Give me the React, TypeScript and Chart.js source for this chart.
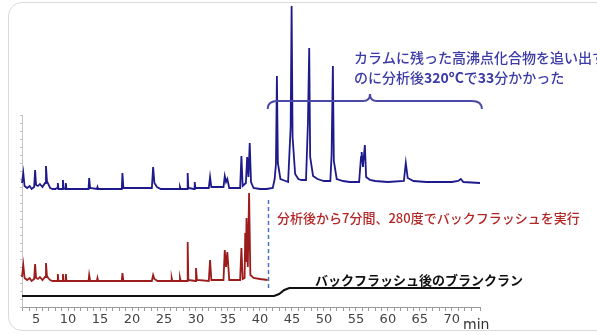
import React, { useEffect, useRef } from "react";
import { Chart, registerables } from "chart.js";

Chart.register(...registerables);

// ---- data (retention time in min, detector signal in arbitrary units) ----
const blueTimes = [
  2.8, 3.0, 3.2, 3.6, 4.0, 4.3, 4.7, 4.85, 5.0, 5.3, 5.6, 6.0, 6.4, 6.55, 6.7, 6.9, 7.2, 7.6, 8.0, 8.3, 8.4, 8.5,
  9.1, 9.2, 9.3, 9.55, 9.65, 9.75, 10.5, 13.2, 13.3, 13.45, 14.5, 14.6, 14.7, 18.4, 18.5, 18.65, 23.1, 23.3, 23.5,
  23.9, 24.5, 27.4, 27.5, 27.6, 28.6, 28.7, 28.8, 29.7, 29.8, 29.9, 32.0, 32.2, 32.4, 34.3, 34.5, 34.7, 34.9, 35.2,
  36.9, 37.1, 37.3, 37.8, 38.0, 38.2, 38.4, 38.6, 39.0, 40.0, 41.0, 42.0, 42.3, 42.5, 42.65, 42.8, 43.2, 43.6, 44.0,
  44.4, 44.8, 44.95, 45.1, 45.5, 46.0, 46.5, 47.2, 47.5, 47.7, 47.85, 48.3, 49.0, 50.0, 51.0, 51.2, 51.4, 51.55,
  52.0, 53.0, 54.0, 55.5, 55.8, 55.9, 56.1, 56.4, 56.6, 57.2, 58.0, 60.0, 62.5, 62.8, 63.1, 64.0, 66.0, 70.0, 71.0,
  71.4, 71.8, 74.4,
];
const blueValues = [
  124, 134, 121, 119, 121, 118, 120, 137, 122, 121, 123, 120, 124, 141, 126, 123, 119, 118, 118, 119, 124, 118,
  118, 127, 119, 118, 124, 118, 118, 118, 129, 119, 118, 120, 118, 118, 134, 119, 119, 140, 124,
  120, 118, 118, 120, 118, 118, 134, 119, 118, 125, 119, 119, 130, 120, 120, 131, 125, 128, 119,
  119, 151, 121, 124, 150, 130, 164, 125, 119, 118, 118, 119, 128, 143, 231, 144, 128, 127, 126,
  125, 180, 301, 170, 133, 128, 127, 127, 184, 259, 150, 131, 128, 126, 126, 152, 241, 146,
  128, 126, 125, 125, 150, 155, 140, 162, 130, 127, 126, 125, 126, 144, 129, 126, 125, 125, 126,
  128, 125, 124,
];

const redTimes = [
  2.8, 3.0, 3.2, 3.6, 4.0, 4.3, 4.7, 4.85, 5.0, 5.3, 5.6, 6.0, 6.4, 6.55, 6.7, 6.9, 7.2, 7.6, 8.0, 8.3, 8.4, 8.5,
  9.1, 9.2, 9.3, 9.55, 9.65, 9.75, 10.5, 13.2, 13.3, 13.45, 14.5, 14.6, 14.7, 18.4, 18.5, 18.65, 23.1, 23.3, 23.5,
  24.0, 26.1, 26.2, 26.3, 27.4, 27.5, 27.6, 28.6, 28.7, 28.8, 29.9, 30.0, 30.15, 32.0, 32.2, 32.4, 34.3, 34.5, 34.7,
  34.9, 35.2, 36.9, 37.1, 37.3, 37.6, 37.7, 37.8, 37.9, 38.1, 38.3, 38.5, 39.0, 40.0, 41.2,
];
const redValues = [
  30, 42, 29, 27, 29, 26, 28, 43, 29, 28, 30, 27, 30, 44, 31, 29, 27, 26, 26, 26, 33, 26,
  26, 33, 26, 26, 33, 26, 26, 26, 32, 26, 26, 29, 26, 26, 34, 26, 26, 32, 28,
  26, 26, 29, 26, 26, 29, 26, 26, 65, 27, 26, 39, 27, 26, 47, 27, 27, 57, 40,
  55, 27, 27, 59, 28, 29, 74, 45, 89, 40, 114, 32, 29, 28, 27,
];

const blackTimes = [2.8, 42.2, 43.0, 43.8, 44.6, 74.4];
const blackValues = [11, 11, 13, 17, 19, 19];

const xTickLabels = [5, 10, 15, 20, 25, 30, 35, 40, 45, 50, 55, 60, 65, 70];
const xMin = 2.8;
const xMax = 74.4;

const toPoints = (xs: number[], ys: number[]) => xs.map((x, i) => ({ x, y: ys[i] }));

const JP = '"Noto Sans CJK JP", "Noto Sans", sans-serif';

function drawSegments(ctx: CanvasRenderingContext2D, x: number, y: number, segs: [string, string][], size: number, color: string) {
  ctx.fillStyle = color;
  ctx.textBaseline = "middle";
  ctx.textAlign = "left";
  let cx = x;
  for (const [t, weight] of segs) {
    ctx.font = `${weight} ${size}px ${JP}`;
    ctx.fillText(t, cx, y);
    cx += ctx.measureText(t).width;
  }
}

const annotations = {
  id: "annotations",
  afterDatasetsDraw(chart: any) {
    const { ctx, chartArea } = chart;
    const xs = chart.scales.x;
    ctx.save();

    // dashed vertical line at end of red run
    const dx = Math.round(xs.getPixelForValue(41.2)) + 0.5;
    ctx.strokeStyle = "#3f78c0";
    ctx.lineWidth = 1.5;
    ctx.setLineDash([4, 3]);
    ctx.beginPath();
    ctx.moveTo(dx, 200);
    ctx.lineTo(dx, 290);
    ctx.stroke();
    ctx.setLineDash([]);

    // curly brace
    const bl = xs.getPixelForValue(41.2);
    const br = xs.getPixelForValue(74.7);
    const bc = xs.getPixelForValue(57.2);
    const yb = 101;
    ctx.strokeStyle = "#4a48a8";
    ctx.lineWidth = 2;
    ctx.beginPath();
    ctx.moveTo(bl, yb + 8);
    ctx.quadraticCurveTo(bl, yb, bl + 10, yb);
    ctx.lineTo(bc - 7, yb);
    ctx.quadraticCurveTo(bc, yb, bc, yb - 7);
    ctx.quadraticCurveTo(bc, yb, bc + 7, yb);
    ctx.lineTo(br - 10, yb);
    ctx.quadraticCurveTo(br, yb, br, yb + 8);
    ctx.stroke();

    // texts
    const blue = "#3b3aa6";
    drawSegments(ctx, 354, 58, [["カラムに残った高沸点化合物を追い出す", "500"]], 14, blue);
    drawSegments(ctx, 354, 78, [["のに分析後", "500"], ["320ºC", "bold"], ["で", "500"], ["33", "bold"], ["分かかった", "500"]], 14, blue);
    drawSegments(ctx, 277, 218, [["分析後から7分間、280度でバックフラッシュを実行", "500"]], 13, "#b32626");
    drawSegments(ctx, 315, 280, [["バックフラッシュ後のブランクラン", "bold"]], 13, "#111111");

    // axis unit
    ctx.font = `14px "DejaVu Sans", sans-serif`;
    ctx.fillStyle = "#333";
    ctx.textAlign = "left";
    ctx.textBaseline = "middle";
    ctx.fillText("min", chartArea.right - 17, 325);
    ctx.restore();
  },
};

export default function App() {
  const ref = useRef<HTMLCanvasElement>(null);
  useEffect(() => {
    if (!ref.current) return;
    const chart = new Chart(ref.current, {
      type: "line",
      data: {
        datasets: [
          { data: toPoints(blueTimes, blueValues), borderColor: "#1e1a8c", borderWidth: 1.8, pointRadius: 0, tension: 0, clip: false as any },
          { data: toPoints(redTimes, redValues), borderColor: "#9c1b1b", borderWidth: 1.8, pointRadius: 0, tension: 0, clip: false as any },
          { data: toPoints(blackTimes, blackValues), borderColor: "#111111", borderWidth: 2, pointRadius: 0, tension: 0, clip: false as any },
        ],
      },
      options: {
        animation: false,
        responsive: false,
        maintainAspectRatio: false,
        layout: { padding: { top: 115, right: 117, left: 0, bottom: 0 } },
        plugins: { legend: { display: false }, tooltip: { enabled: false } },
        scales: {
          x: {
            type: "linear",
            min: xMin,
            max: xMax,
            afterFit: (s: any) => { s.height = 28; },
            border: { display: true, color: "#9a9a9a", width: 1 },
            grid: { drawOnChartArea: false, drawTicks: true, tickLength: 4, color: "#9a9a9a" },
            ticks: {
              stepSize: 1,
              autoSkip: false,
              maxRotation: 0,
              padding: 1,
              color: "#444",
              font: { family: '"DejaVu Sans", sans-serif', size: 13 },
              callback: (v: any) => (xTickLabels.includes(Number(v)) ? String(v) : ""),
            },
          },
          y: {
            type: "linear",
            min: 0,
            max: 192,
            afterFit: (s: any) => { s.width = 22; },
            border: { display: true, color: "#c4c4c4", width: 1 },
            grid: { drawOnChartArea: false, drawTicks: true, tickLength: 2, color: "#c4c4c4" },
            ticks: { display: false, stepSize: 8 },
          },
        },
      },
      plugins: [annotations],
    });
    return () => chart.destroy();
  }, []);

  return (
    <div style={{ position: "fixed", left: 0, top: 0, width: 597, height: 335, overflow: "hidden", background: "#fff" }}>
      <div
        style={{
          position: "absolute",
          left: 8,
          top: 2,
          width: 620,
          height: 329,
          border: "1px solid #d9d9d9",
          borderRadius: 14,
          boxSizing: "border-box",
        }}
      />
      <canvas ref={ref} width={597} height={335} style={{ position: "absolute", left: 0, top: 0 }} />
    </div>
  );
}
